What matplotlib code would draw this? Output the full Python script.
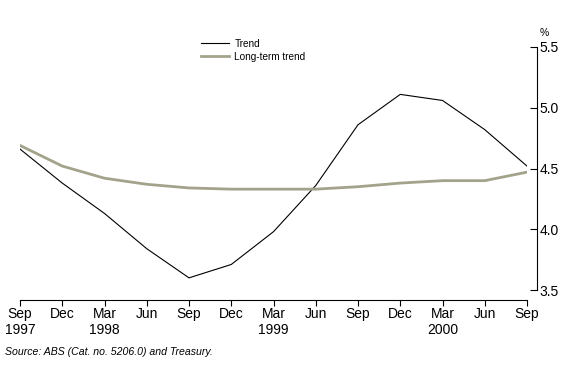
import numpy as np
import matplotlib.pyplot as plt

plt.rcParams['font.family'] = ['Liberation Sans', 'DejaVu Sans']

months = ['Sep', 'Dec', 'Mar', 'Jun', 'Sep', 'Dec', 'Mar', 'Jun', 'Sep', 'Dec', 'Mar', 'Jun', 'Sep']
years = ['1997', '', '1998', '', '', '', '1999', '', '', '', '2000', '', '']
trend = [4.66, 4.38, 4.13, 3.84, 3.60, 3.71, 3.98, 4.36, 4.86, 5.11, 5.06, 4.82, 4.52]
long_term = [4.69, 4.52, 4.42, 4.37, 4.34, 4.33, 4.33, 4.33, 4.35, 4.38, 4.40, 4.40, 4.47]
y_ticks = [3.5, 4.0, 4.5, 5.0, 5.5]

fig = plt.figure(figsize=(5.67, 3.78), dpi=100)
ax = fig.add_axes([20 / 567, 88 / 378, 507 / 567, 243 / 378])

x = np.arange(len(months))
ax.plot(x, trend, color='black', lw=0.8, label='Trend')
ax.plot(x, long_term, color='#a3a38c', lw=2.0, label='Long-term trend')

ax.set_xlim(0, len(months) - 1)
ax.set_ylim(3.5, 5.5)
ax.set_xticks(x)
ax.set_xticklabels([m + '\n' + y for m, y in zip(months, years)], fontsize=7.5, linespacing=1.15)
ax.set_yticks(y_ticks)
ax.set_yticklabels([f'{v:.1f}' for v in y_ticks], fontsize=7.5)

ax.yaxis.tick_right()
ax.spines['left'].set_visible(False)
ax.spines['top'].set_visible(False)
ax.spines['right'].set_position(('outward', 7))
ax.spines['bottom'].set_position(('outward', 7))
for s in ('right', 'bottom'):
    ax.spines[s].set_linewidth(0.8)
ax.tick_params(axis='x', direction='out', length=4, width=0.8, pad=1)
ax.tick_params(axis='y', direction='in', length=5, width=0.8, pad=2)

ax.text(1.035, 1.035, '%', transform=ax.transAxes, fontsize=7.5, ha='center', va='bottom')

ax.legend(loc='upper left', bbox_to_anchor=(0.34, 1.07), frameon=False, fontsize=7.2,
          handlelength=2.8, handletextpad=0.5, labelspacing=0.3)

fig.text(5 / 567, 1 - 352 / 378, 'Source: ABS (Cat. no. 5206.0) and Treasury.', fontsize=7.6,
         style='italic', va='center')

fig.savefig('out.png', dpi=100)
